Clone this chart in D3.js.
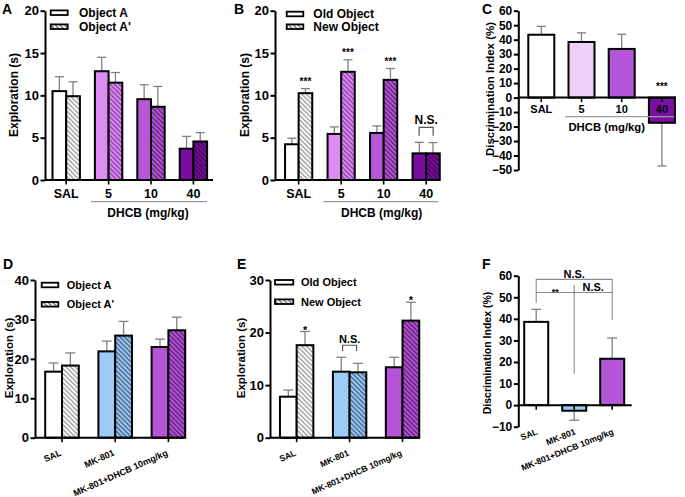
<!DOCTYPE html>
<html><head><meta charset="utf-8">
<script src="https://cdn.jsdelivr.net/npm/d3@7"></script>
<style>
body{margin:0;background:#fff}
svg text{font-family:"Liberation Sans",Arial,Helvetica,sans-serif;font-weight:bold;fill:#000}
</style>
</head><body>
<svg id="fig" width="685" height="497"></svg>
<script>
// ---------------- DATA ----------------
const doseCats = ["SAL", "5", "10", "40"];
const mkCats = ["SAL", "MK-801", "MK-801+DHCB 10mg/kg"];
const yTicksA = [0, 5, 10, 15, 20];
const yTicksC = [-50, -40, -30, -20, -10, 0, 10, 20, 30, 40, 50, 60];
const yTicksD = [0, 10, 20, 30, 40];
const yTicksE = [0, 10, 20, 30];
const yTicksF = [-10, 0, 10, 20, 30, 40, 50, 60];

// Panel A (training: Object A vs A')
const aObjA = [10.5, 12.85, 9.55, 3.7];
const aObjAErr = [1.7, 1.65, 1.7, 1.45];
const aObjA2 = [9.9, 11.5, 8.65, 4.55];
const aObjA2Err = [1.7, 1.2, 2.4, 1.05];

// Panel B (test: old vs new)
const bOld = [4.22, 5.44, 5.56, 3.15];
const bOldErr = [0.71, 0.83, 0.83, 1.3];
const bNew = [10.26, 12.78, 11.83, 3.15];
const bNewErr = [0.54, 1.42, 1.34, 1.27];
const bSig = ["***", "***", "***", null];

// Panel C (discrimination index)
const cDI = [43.4, 38.4, 33.6, -17.4];
const cDIErr = [5.8, 6.3, 10.1, 29.8];
const cSig = [null, null, null, "***"];

// Panel D (training)
const dObjA = [16.75, 21.9, 23.0];
const dObjAErr = [2.2, 2.6, 2.0];
const dObjA2 = [18.3, 25.9, 27.25];
const dObjA2Err = [3.2, 3.6, 3.3];

// Panel E (test)
const eOld = [7.8, 12.56, 13.4];
const eOldErr = [1.27, 2.74, 1.9];
const eNew = [17.6, 12.44, 22.27];
const eNewErr = [2.6, 1.71, 3.49];
const eSig = ["*", null, "*"];

// Panel F (discrimination index)
const fDI = [38.6, -2.6, 21.5];
const fDIErr = [5.8, 4.4, 9.6];

// ---------------- STYLE ----------------
const colDose = ["#ffffff", "#df8bf6", "#b658d8", "#790da0"];
const stripeDose = ["#8a8a8a", "#7a3596", "#4c1762", "#340448"];
const colDoseC = ["#ffffff", "#efd0f8", "#b555d7", "#7a10a2"];
const colMK = ["#ffffff", "#9dcaf7", "#b654d8"];
const stripeMK = ["#8a8a8a", "#31506f", "#4c1762"];
const errCol = "#808080";
const sepCol = "#9a9a9a";

const svg = d3.select("#fig");
const defs = svg.append("defs");
let patN = 0;
function hatch(bg, fg) {
  const id = "hp" + (patN++);
  const s = 3.3;
  const p = defs.append("pattern").attr("id", id).attr("patternUnits", "userSpaceOnUse")
    .attr("width", s).attr("height", s).attr("patternTransform", "rotate(-45)");
  p.append("rect").attr("width", s).attr("height", s).attr("fill", bg);
  p.append("line").attr("x1", s / 2).attr("x2", s / 2).attr("y1", -1).attr("y2", s + 1)
    .attr("stroke", fg).attr("stroke-width", 1.15);
  return `url(#${id})`;
}

function yAxis(g, y, xPos, ticks, fs) {
  const ax = g.append("g").attr("transform", `translate(${xPos},0)`)
    .call(d3.axisLeft(y).tickValues(ticks).tickSize(4.5).tickPadding(1.5).tickSizeOuter(0).tickFormat(d3.format("d")));
  ax.select(".domain").attr("stroke", "#000").attr("stroke-width", 2);
  ax.selectAll(".tick line").attr("stroke", "#000").attr("stroke-width", 2);
  ax.selectAll(".tick text").style("font-size", fs + "px").attr("fill", "#000");
  return ax;
}

// generic bar panel
function barPanel(cfg) {
  const g = svg.append("g");
  const y = d3.scaleLinear().domain(cfg.yDomain).range(cfg.yRange);
  const x = d3.scaleBand().domain(cfg.cats).range(cfg.xRange);
  const nS = cfg.series.length;
  const xs = d3.scaleBand().domain(d3.range(nS)).range([0, cfg.barW * nS]);
  const y0 = y(0);
  const recs = [];
  cfg.series.forEach((s, si) => {
    s.values.forEach((v, i) => {
      const left = x(cfg.cats[i]) + x.bandwidth() / 2 - cfg.barW * nS / 2 + xs(si);
      recs.push({ v, e: s.errs[i], left, w: cfg.barW, i, si,
        fill: s.hatch ? hatch(cfg.colors[i], cfg.stripes[i]) : cfg.colors[i] });
    });
  });
  // error bars (behind bars)
  const eb = g.append("g");
  eb.selectAll("line.ev").data(recs).join("line")
    .attr("x1", d => d.left + d.w / 2).attr("x2", d => d.left + d.w / 2)
    .attr("y1", d => y(d.v)).attr("y2", d => y(d.v + (d.v >= 0 ? d.e : -d.e)))
    .attr("stroke", errCol).attr("stroke-width", 1.3);
  eb.selectAll("line.ec").data(recs).join("line")
    .attr("x1", d => d.left + d.w / 2 - cfg.cap).attr("x2", d => d.left + d.w / 2 + cfg.cap)
    .attr("y1", d => y(d.v + (d.v >= 0 ? d.e : -d.e))).attr("y2", d => y(d.v + (d.v >= 0 ? d.e : -d.e)))
    .attr("stroke", errCol).attr("stroke-width", 1.3);
  // bars
  g.append("g").selectAll("rect").data(recs).join("rect")
    .attr("x", d => d.left).attr("width", d => d.w)
    .attr("y", d => Math.min(y(d.v), y0)).attr("height", d => Math.abs(y(d.v) - y0))
    .attr("fill", d => d.fill).attr("stroke", "#000").attr("stroke-width", 2);
  // y axis
  yAxis(g, y, cfg.yAxisX, cfg.yTicks, cfg.tickFs);
  // x axis line
  g.append("line").attr("x1", cfg.yAxisX).attr("x2", cfg.xAxisEnd).attr("y1", y0).attr("y2", y0)
    .attr("stroke", "#000").attr("stroke-width", 2);
  g.selectAll("line.xt").data(cfg.cats).join("line")
    .attr("x1", d => x(d) + x.bandwidth() / 2).attr("x2", d => x(d) + x.bandwidth() / 2)
    .attr("y1", y0).attr("y2", y0 + 4.5).attr("stroke", "#000").attr("stroke-width", 1.6);
  // y label
  g.append("text").attr("transform", `translate(${cfg.yLabelX},${cfg.yLabelY}) rotate(-90)`)
    .attr("text-anchor", "middle").style("font-size", cfg.yLabelFs + "px").text(cfg.yLabel);
  // panel letter
  g.append("text").attr("x", cfg.letterX).attr("y", cfg.letterY).style("font-size", "14px").text(cfg.letter);
  return { g, x, y, recs };
}

function xLabelsFlat(p, cats, yBase, fs) {
  p.g.selectAll("text.xl").data(cats).join("text")
    .attr("x", d => p.x(d) + p.x.bandwidth() / 2).attr("y", yBase)
    .attr("text-anchor", "middle").style("font-size", fs + "px").text(d => d);
}
function xLabelsRot(p, cats, yBase, dx, ang, fs) {
  p.g.selectAll("text.xr").data(cats).join("text")
    .attr("transform", d => `translate(${p.x(d) + p.x.bandwidth() / 2 + dx},${yBase}) rotate(${ang})`)
    .attr("text-anchor", "end").style("font-size", fs + "px").text(d => d);
}
function legend(g, items, rx, rw, rh, tx, rowsY, fs) {
  items.forEach((it, k) => {
    g.append("rect").attr("x", rx).attr("y", rowsY[k] - rh / 2).attr("width", rw).attr("height", rh)
      .attr("fill", it.fill).attr("stroke", "#000").attr("stroke-width", 1.8);
    g.append("text").attr("x", tx).attr("y", rowsY[k]).attr("dy", "0.36em")
      .style("font-size", fs + "px").text(it.label);
  });
}
function groupSep(g, x1, x2, yy, label, lx, ly, fs) {
  g.append("line").attr("x1", x1).attr("x2", x2).attr("y1", yy).attr("y2", yy)
    .attr("stroke", sepCol).attr("stroke-width", 1.2);
  g.append("text").attr("x", lx).attr("y", ly).attr("text-anchor", "middle").style("font-size", fs + "px").text(label);
}
function bracket(g, x1, x2, yy, leg) {
  g.append("path").attr("d", `M${x1},${yy + leg}V${yy}H${x2}V${yy + leg}`)
    .attr("fill", "none").attr("stroke", "#555").attr("stroke-width", 1.2);
}

// ---------------- PANEL A ----------------
const pA = barPanel({
  cats: doseCats, yDomain: [0, 20], yRange: [180, 10.7], yTicks: yTicksA, yAxisX: 45,
  xRange: [45, 214.6], barW: 13.7, xAxisEnd: 213, cap: 4.5, tickFs: 13,
  colors: colDose, stripes: stripeDose,
  series: [{ values: aObjA, errs: aObjAErr }, { values: aObjA2, errs: aObjA2Err, hatch: true }],
  yLabel: "Exploration (s)", yLabelX: 17.5, yLabelY: 95, yLabelFs: 12, letter: "A", letterX: 2, letterY: 14
});
xLabelsFlat(pA, doseCats, 197.5, 12.5);
groupSep(pA.g, 91, 207, 201.7, "DHCB (mg/kg)", 148, 217, 12);
legend(pA.g, [{ fill: "#fff", label: "Object A" }, { fill: hatch("#fff", "#555"), label: "Object A'" }],
  50.7, 17, 4.6, 79, [12.7, 26.7], 12);

// ---------------- PANEL B ----------------
const pB = barPanel({
  cats: doseCats, yDomain: [0, 20], yRange: [180, 10.7], yTicks: yTicksA, yAxisX: 275,
  xRange: [277.4, 447.4], barW: 13.6, xAxisEnd: 440, cap: 4.5, tickFs: 13,
  colors: colDose, stripes: stripeDose,
  series: [{ values: bOld, errs: bOldErr }, { values: bNew, errs: bNewErr, hatch: true }],
  yLabel: "Exploration (s)", yLabelX: 248.5, yLabelY: 95, yLabelFs: 12, letter: "B", letterX: 234, letterY: 14
});
xLabelsFlat(pB, doseCats, 197.5, 12.5);
groupSep(pB.g, 323.3, 438.3, 201.7, "DHCB (mg/kg)", 381.7, 217, 12);
legend(pB.g, [{ fill: "#fff", label: "Old Object" }, { fill: hatch("#fff", "#555"), label: "New Object" }],
  286.7, 16.6, 4.6, 313.3, [14, 26.7], 12);
pB.recs.filter(d => d.si === 1 && bSig[d.i]).forEach(d => {
  pB.g.append("text").attr("x", d.left + d.w / 2).attr("y", pB.y(d.v + d.e) - 4)
    .attr("text-anchor", "middle").style("font-size", "10px").text(bSig[d.i]);
});
{
  const c40 = pB.x("40") + pB.x.bandwidth() / 2;
  const top = pB.y(bOld[3] + bOldErr[3]) - 6.5;
  bracket(pB.g, c40 - 7, c40 + 7, top - 8.5, 8.5);
  pB.g.append("text").attr("x", c40).attr("y", top - 11.5).attr("text-anchor", "middle")
    .style("font-size", "12px").text("N.S.");
}

// ---------------- PANEL C ----------------
const pC = barPanel({
  cats: doseCats, yDomain: [-50, 60], yRange: [170, 10.7], yTicks: yTicksC, yAxisX: 518.3,
  xRange: [521.2, 682], barW: 26, xAxisEnd: 676, cap: 4.5, tickFs: 12,
  colors: colDoseC, stripes: stripeDose,
  series: [{ values: cDI, errs: cDIErr }],
  yLabel: "Discrimination Index (%)", yLabelX: 494, yLabelY: 89, yLabelFs: 11.5, letter: "C", letterX: 482, letterY: 14
});
xLabelsFlat(pC, doseCats, 113, 11);
groupSep(pC.g, 565, 674.3, 116.7, "DHCB (mg/kg)", 606.7, 131, 11.3);
pC.recs.filter(d => cSig[d.i]).forEach(d => {
  pC.g.append("text").attr("x", d.left + d.w / 2).attr("y", pC.y(0) - 7.5)
    .attr("text-anchor", "middle").style("font-size", "10px").text(cSig[d.i]);
});

// ---------------- PANEL D ----------------
const pD = barPanel({
  cats: mkCats, yDomain: [0, 40], yRange: [437.7, 280], yTicks: yTicksD, yAxisX: 35,
  xRange: [35.4, 195], barW: 16.8, xAxisEnd: 185, cap: 5, tickFs: 13,
  colors: colMK, stripes: stripeMK,
  series: [{ values: dObjA, errs: dObjAErr }, { values: dObjA2, errs: dObjA2Err, hatch: true }],
  yLabel: "Exploration (s)", yLabelX: 12.5, yLabelY: 358, yLabelFs: 11.5, letter: "D", letterX: 3, letterY: 269
});
xLabelsRot(pD, mkCats, 455, 0, -24, 9);
legend(pD.g, [{ fill: "#fff", label: "Object A" }, { fill: hatch("#fff", "#555"), label: "Object A'" }],
  41.7, 16.6, 4.6, 66.7, [285, 304.3], 11);

// ---------------- PANEL E ----------------
const pE = barPanel({
  cats: mkCats, yDomain: [0, 30], yRange: [437.7, 280], yTicks: yTicksE, yAxisX: 270,
  xRange: [270.2, 429], barW: 16.7, xAxisEnd: 420, cap: 5, tickFs: 13,
  colors: colMK, stripes: stripeMK,
  series: [{ values: eOld, errs: eOldErr }, { values: eNew, errs: eNewErr, hatch: true }],
  yLabel: "Exploration (s)", yLabelX: 245, yLabelY: 358, yLabelFs: 11.5, letter: "E", letterX: 237, letterY: 269
});
xLabelsRot(pE, mkCats, 455, 0, -24, 8.6);
legend(pE.g, [{ fill: "#fff", label: "Old Object" }, { fill: hatch("#fff", "#555"), label: "New Object" }],
  275, 18.3, 4.6, 301, [282.3, 301.7], 11);
pE.recs.filter(d => d.si === 1 && eSig[d.i]).forEach(d => {
  pE.g.append("text").attr("x", d.left + d.w / 2).attr("y", pE.y(d.v + d.e) + 2)
    .attr("text-anchor", "middle").style("font-size", "11px").text(eSig[d.i]);
});
{
  const cm = pE.x("MK-801") + pE.x.bandwidth() / 2;
  const top = pE.y(eOld[1] + eOldErr[1]) - 12;
  bracket(pE.g, cm - 7, cm + 7, top, 6);
  pE.g.append("text").attr("x", cm).attr("y", top - 2).attr("text-anchor", "middle")
    .style("font-size", "11px").text("N.S.");
}

// ---------------- PANEL F ----------------
const pF = barPanel({
  cats: mkCats, yDomain: [-10, 60], yRange: [426.7, 275.7], yTicks: yTicksF, yAxisX: 518.3,
  xRange: [517.2, 631.2], barW: 24, xAxisEnd: 631.7, cap: 5, tickFs: 12,
  colors: colMK, stripes: stripeMK,
  series: [{ values: fDI, errs: fDIErr }],
  yLabel: "Discrimination Index (%)", yLabelX: 491, yLabelY: 353, yLabelFs: 10.5, letter: "F", letterX: 482, letterY: 269
});
xLabelsRot(pF, mkCats, 434, 2, -22, 8.7);
{
  const y = pF.y, cx = k => pF.x(mkCats[k]) + pF.x.bandwidth() / 2;
  const lg = pF.g.append("g").attr("stroke", "#8a8a8a").attr("stroke-width", 1.1).attr("fill", "none");
  lg.append("path").attr("d", `M${cx(0)},${y(47.5)}V${y(58.3)}H${cx(2)}V${y(39.4)}`);
  lg.append("path").attr("d", `M${cx(0)},${y(52.2)}H${cx(2)}`);
  lg.append("path").attr("d", `M${cx(1)},${y(55.6)}V${y(14.5)}`);
  pF.g.append("text").attr("x", cx(1)).attr("y", y(58.3) - 1.5).attr("text-anchor", "middle").style("font-size", "11px").text("N.S.");
  pF.g.append("text").attr("x", (cx(0) + cx(1)) / 2).attr("y", y(52.2) + 2).attr("text-anchor", "middle").style("font-size", "9px").text("**");
  pF.g.append("text").attr("x", (cx(1) + cx(2)) / 2).attr("y", y(52.2) - 1.5).attr("text-anchor", "middle").style("font-size", "11px").text("N.S.");
}
</script>
</body></html>
